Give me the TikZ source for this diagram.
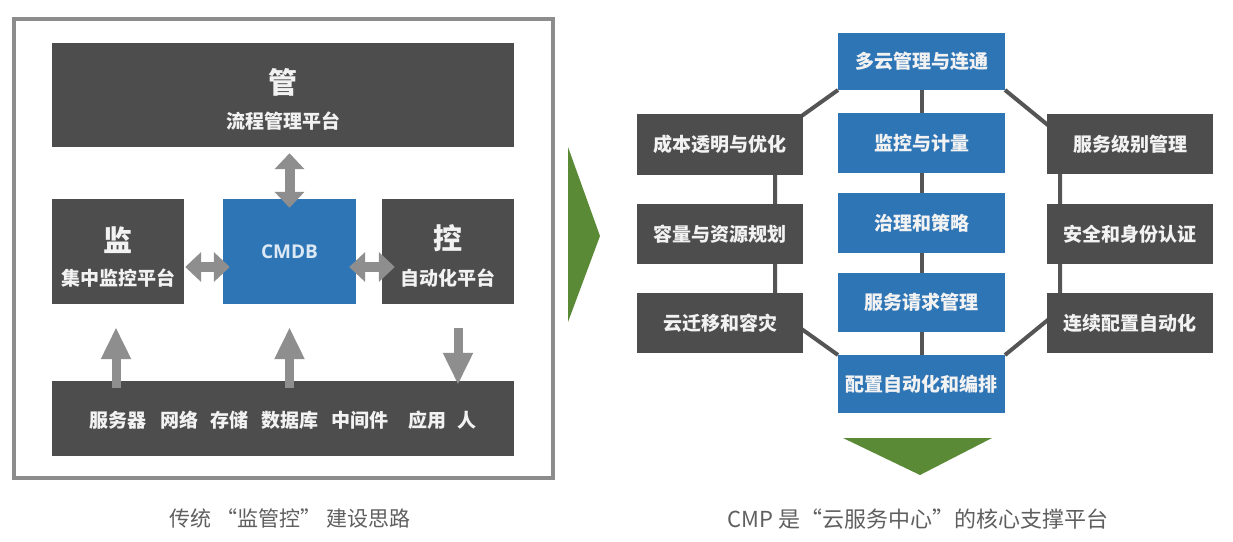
\documentclass[tikz,border=0pt]{standalone}
\usepackage{fontspec}
\setmainfont{Noto Sans CJK SC}
\newfontfamily\latinsans{Open Sans}
\usetikzlibrary{arrows.meta,calc}
\definecolor{boxgray}{RGB}{77,77,77}
\definecolor{boxblue}{RGB}{46,117,182}
\definecolor{arrgray}{RGB}{142,142,142}
\definecolor{framegray}{RGB}{140,140,140}
\definecolor{linegray}{RGB}{85,85,85}
\definecolor{arrowgreen}{RGB}{91,138,55}
\definecolor{captiongray}{RGB}{95,95,95}
\definecolor{boxtext}{RGB}{242,242,242}
\definecolor{cmdbtext}{RGB}{220,233,245}
\begin{document}
\begin{tikzpicture}[x=1pt,y=-1pt,
  gbox/.style={rectangle,fill=boxgray,draw=none,inner sep=0pt,text=boxtext,
    font=\fontsize{19}{23}\selectfont\bfseries},
  bbox/.style={gbox,fill=boxblue},
  boxtitle/.style={inner sep=0pt,text=boxtext,font=\fontsize{29}{32}\selectfont\bfseries},
  boxsub/.style={inner sep=0pt,text=boxtext,font=\fontsize{19}{23}\selectfont\bfseries},
  fatboth/.style={draw=arrgray,line width=10pt,
    {Triangle[width=29pt,length=16pt]}-{Triangle[width=29pt,length=16pt]}},
  fatone/.style={draw=arrgray,line width=9pt,-{Triangle[width=28pt,length=32pt]}},
  octline/.style={draw=linegray,line width=4pt},
  caption/.style={inner sep=0pt,text=captiongray,font=\fontsize{21}{25}\selectfont}]
\useasboundingbox (0,0) rectangle (1233,541);
\fill[white] (0,0) rectangle (1233,541);

% ---------- left part ----------
\draw[framegray,line width=3.5pt] (14,19) rectangle (553,478);

\node[gbox,minimum width=462pt,minimum height=104pt] (guan) at (283,95) {};
\node[boxtitle] (guant) at (283,82) {管};
\node[boxsub] (guans) at (283,121) {流程管理平台};

\node[gbox,minimum width=132pt,minimum height=105pt] (jian) at (118,251.5) {};
\node[boxtitle] (jiant) at (118,240) {监};
\node[boxsub] (jians) at (118,278) {集中监控平台};

\node[bbox,minimum width=133pt,minimum height=105pt,text=cmdbtext,
  font=\fontsize{19}{23}\latinsans\bfseries\selectfont] (cmdb) at (289.5,251.5) {CMDB};

\node[gbox,minimum width=132pt,minimum height=105pt] (kong) at (448,251.5) {};
\node[boxtitle] (kongt) at (448,238) {控};
\node[boxsub] (kongs) at (448,278) {自动化平台};

\node[gbox,minimum width=462pt,minimum height=75pt] (base) at (283,418.5) {};
\node[boxsub] (baset) at (283,420) {服务器\hspace{14pt}网络\hspace{12pt}存储\hspace{13pt}数据库\hspace{13pt}中间件\hspace{20pt}应用\hspace{11pt}人};

% arrows
\draw[fatboth] ($(cmdb.north |- guan.south)+(0,6)$) -- ($(cmdb.north)+(0,9)$);
\draw[fatboth] ($(jian.east)+(1,15.5)$) -- ($(cmdb.west)+(7,15.5)$);
\draw[fatboth] ($(cmdb.east)+(-7,15.5)$) -- ($(kong.west)+(13,15.5)$);
\draw[fatone] ($(base.north -| jian.south)+(-2,7)$) -- ($(jian.south)+(-2,23)$);
\draw[fatone] ($(base.north -| cmdb.south)+(0,7)$) -- ($(cmdb.south)+(0,23)$);
\draw[fatone] ($(kong.south)+(10,24)$) -- ($(base.north -| kong.south)+(10,4)$);

\node[caption] (capl) at (290,518) {传统 “监管控” 建设思路};

% green arrow to the right
\fill[arrowgreen] (568,147) -- (600,236) -- (568,322) -- cycle;

% ---------- right part ----------
\coordinate (b1sw) at (838,90);
\coordinate (b1se) at (1005,90);
\coordinate (b5nw) at (838,355);
\coordinate (b5ne) at (1005,355);
\coordinate (lt) at (775,135);
\coordinate (lb) at (775,310);
\coordinate (rt) at (1060,135);
\coordinate (rb) at (1060,310);
\coordinate (ctop) at (921.5,88);
\coordinate (cbot) at (921.5,357);

\draw[octline] (b1sw) -- (lt) -- (lb) -- (b5nw);
\draw[octline] (b1se) -- (rt) -- (rb) -- (b5ne);
\draw[octline] (ctop) -- (cbot);

\node[bbox,minimum width=167pt,minimum height=57pt] (b1) at (921.5,61.5) {多云管理与连通};
\node[bbox,minimum width=167pt,minimum height=60pt] (b2) at (921.5,143) {监控与计量};
\node[bbox,minimum width=167pt,minimum height=60pt] (b3) at (921.5,223) {治理和策略};
\node[bbox,minimum width=167pt,minimum height=59pt] (b4) at (921.5,302.5) {服务请求管理};
\node[bbox,minimum width=167pt,minimum height=58pt] (b5) at (921.5,384) {配置自动化和编排};

\node[gbox,minimum width=166pt,minimum height=61pt] (l1) at (720,144.5) {成本透明与优化};
\node[gbox,minimum width=166pt,minimum height=60pt] (l2) at (720,234) {容量与资源规划};
\node[gbox,minimum width=166pt,minimum height=60pt] (l3) at (720,323) {云迁移和容灾};
\node[gbox,minimum width=166pt,minimum height=60pt] (r1) at (1130,144) {服务级别管理};
\node[gbox,minimum width=166pt,minimum height=60pt] (r2) at (1130,234) {安全和身份认证};
\node[gbox,minimum width=166pt,minimum height=60pt] (r3) at (1130,323) {连续配置自动化};

\node[caption,font=\fontsize{22}{26}\selectfont] (capr) at (918,519) {CMP 是“云服务中心”的核心支撑平台};

% green arrow downwards
\fill[arrowgreen] (843,438) -- (992,438) -- (920,475) -- cycle;
\end{tikzpicture}
\end{document}
